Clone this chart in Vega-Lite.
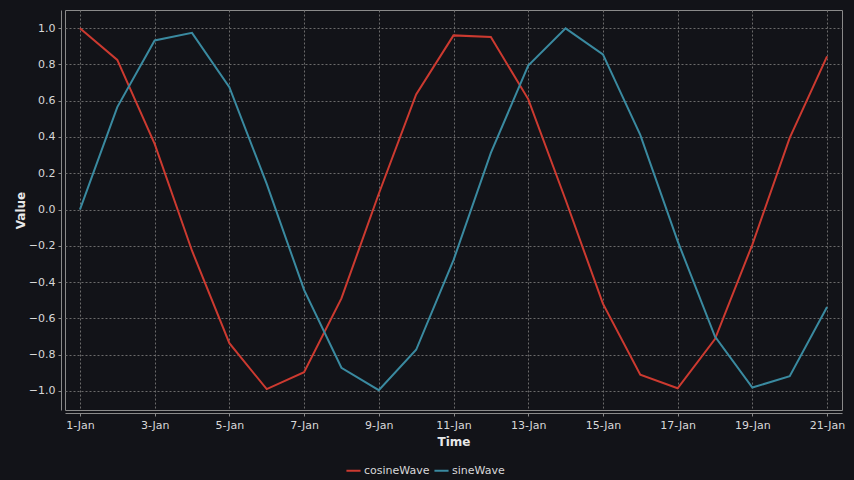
{
  "$schema": "https://vega.github.io/schema/vega-lite/v6.json",
  "autosize": "none",
  "width": 777,
  "height": 400,
  "padding": {"left": 65, "top": 10, "right": 12, "bottom": 70},
  "background": "#121318",
  "data": {
    "values": [
      {"date": "2021-01-01", "cosineWave": 1.0, "sineWave": 0.0},
      {"date": "2021-01-02", "cosineWave": 0.825, "sineWave": 0.565},
      {"date": "2021-01-03", "cosineWave": 0.362, "sineWave": 0.932},
      {"date": "2021-01-04", "cosineWave": -0.227, "sineWave": 0.974},
      {"date": "2021-01-05", "cosineWave": -0.737, "sineWave": 0.675},
      {"date": "2021-01-06", "cosineWave": -0.99, "sineWave": 0.141},
      {"date": "2021-01-07", "cosineWave": -0.897, "sineWave": -0.443},
      {"date": "2021-01-08", "cosineWave": -0.49, "sineWave": -0.872},
      {"date": "2021-01-09", "cosineWave": 0.087, "sineWave": -0.996},
      {"date": "2021-01-10", "cosineWave": 0.635, "sineWave": -0.773},
      {"date": "2021-01-11", "cosineWave": 0.96, "sineWave": -0.279},
      {"date": "2021-01-12", "cosineWave": 0.951, "sineWave": 0.312},
      {"date": "2021-01-13", "cosineWave": 0.609, "sineWave": 0.794},
      {"date": "2021-01-14", "cosineWave": 0.054, "sineWave": 0.999},
      {"date": "2021-01-15", "cosineWave": -0.519, "sineWave": 0.855},
      {"date": "2021-01-16", "cosineWave": -0.911, "sineWave": 0.412},
      {"date": "2021-01-17", "cosineWave": -0.985, "sineWave": -0.174},
      {"date": "2021-01-18", "cosineWave": -0.714, "sineWave": -0.7},
      {"date": "2021-01-19", "cosineWave": -0.193, "sineWave": -0.981},
      {"date": "2021-01-20", "cosineWave": 0.395, "sineWave": -0.919},
      {"date": "2021-01-21", "cosineWave": 0.844, "sineWave": -0.537}
    ]
  },
  "transform": [
    {"fold": ["cosineWave", "sineWave"], "as": ["series", "value"]}
  ],
  "mark": {"type": "line", "strokeWidth": 2},
  "encoding": {
    "x": {
      "field": "date",
      "type": "temporal",
      "title": "Time",
      "scale": {
        "type": "utc",
        "domain": [
          {"year": 2020, "month": 12, "date": 31, "hours": 14, "minutes": 24, "utc": true},
          {"year": 2021, "month": 1, "date": 21, "hours": 9, "minutes": 36, "utc": true}
        ]
      },
      "axis": {
        "format": "%-d-%b",
        "tickCount": {"interval": "day", "step": 2},
        "offset": 3,
        "labelAngle": 0,
        "titlePadding": 6
      }
    },
    "y": {
      "field": "value",
      "type": "quantitative",
      "title": "Value",
      "scale": {"domain": [-1.105, 1.1], "nice": false, "zero": false},
      "axis": {"values": [-1, -0.8, -0.6, -0.4, -0.2, 0, 0.2, 0.4, 0.6, 0.8, 1], "format": ".1f", "offset": 4, "titlePadding": 1}
    },
    "color": {
      "field": "series",
      "type": "nominal",
      "scale": {"domain": ["cosineWave", "sineWave"], "range": ["#cc3a30", "#3a8aa0"]},
      "legend": {
        "title": null,
        "orient": "none",
        "direction": "horizontal",
        "legendX": 280,
        "legendY": 452,
        "symbolType": "stroke",
        "symbolSize": 200,
        "symbolStrokeWidth": 2,
        "columnPadding": 0,
        "labelOffset": 2
      }
    }
  },
  "config": {
    "font": "DejaVu Sans",
    "view": {"stroke": "#8a8a8a", "strokeWidth": 1},
    "axis": {
      "domainColor": "#8a8a8a",
      "tickColor": "#8a8a8a",
      "tickSize": 3,
      "gridColor": "#6a6a6a",
      "gridDash": [2, 2],
      "gridWidth": 1,
      "labelColor": "#d8d8d8",
      "labelFont": "DejaVu Sans",
      "labelFontSize": 11,
      "labelPadding": 3,
      "titleColor": "#e8e8e8",
      "titleFont": "DejaVu Sans",
      "titleFontSize": 12,
      "titleFontWeight": "bold"
    },
    "legend": {
      "labelColor": "#d8d8d8",
      "labelFont": "DejaVu Sans",
      "labelFontSize": 11
    }
  }
}
